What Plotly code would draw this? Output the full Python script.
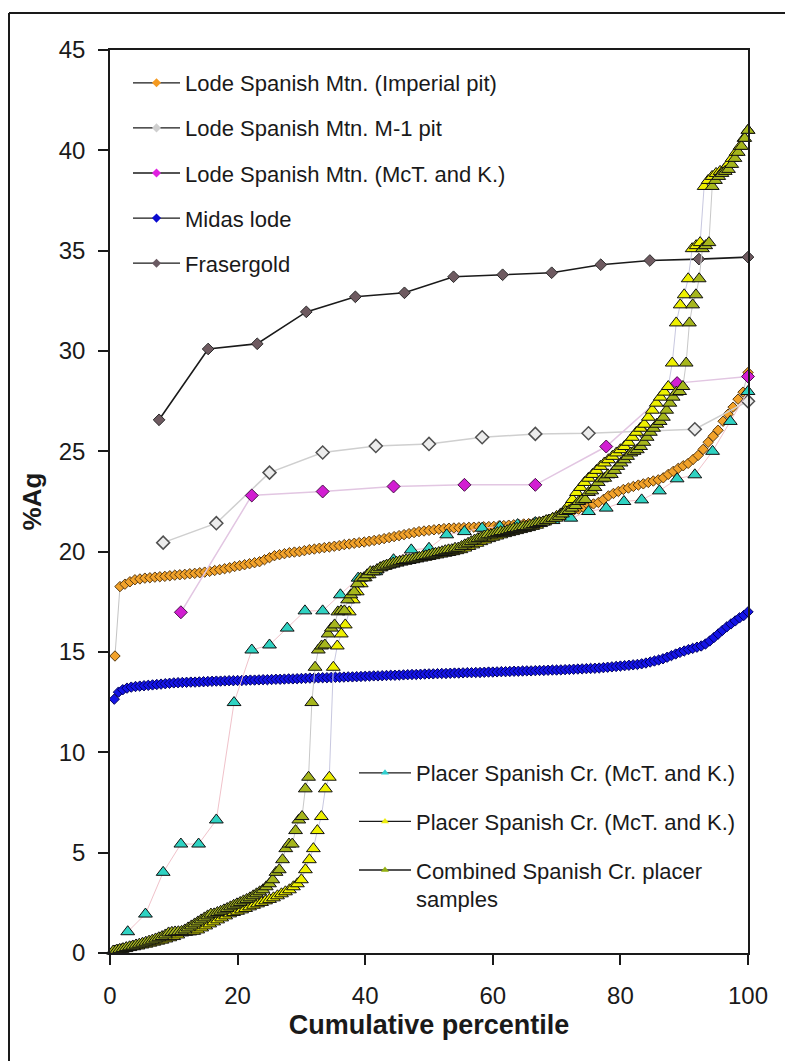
import plotly.graph_objects as go

# ---------------- data (sorted %Ag values per sample set) ----------------
imperial_pit_ag = [
    14.80, 18.26, 18.38, 18.50, 18.60, 18.64, 18.68, 18.70, 18.73, 18.75,
    18.77, 18.80, 18.83, 18.85, 18.87, 18.90, 18.92, 18.95, 18.98, 19.02,
    19.06, 19.10, 19.15, 19.20, 19.26, 19.30, 19.35, 19.40, 19.45, 19.50,
    19.60, 19.70, 19.80, 19.85, 19.90, 19.95, 19.98, 20.00, 20.05, 20.10,
    20.13, 20.17, 20.20, 20.23, 20.27, 20.30, 20.35, 20.38, 20.42, 20.45,
    20.48, 20.52, 20.56, 20.60, 20.65, 20.70, 20.75, 20.80, 20.85, 20.90,
    20.95, 21.00, 21.03, 21.06, 21.09, 21.12, 21.15, 21.17, 21.18, 21.19,
    21.20, 21.21, 21.22, 21.23, 21.24, 21.25, 21.26, 21.28, 21.30, 21.32,
    21.34, 21.36, 21.38, 21.40, 21.43, 21.47, 21.52, 21.58, 21.65, 21.72,
    21.82, 21.95, 22.05, 22.12, 22.20, 22.30, 22.38, 22.45, 22.60, 22.78,
    22.90, 23.00, 23.10, 23.17, 23.25, 23.32, 23.38, 23.45, 23.52, 23.58,
    23.68, 23.85, 24.00, 24.15, 24.28, 24.40, 24.60, 24.80, 25.10, 25.45,
    25.75, 26.05, 26.50, 26.85, 27.20, 27.60, 27.95, 28.93,
]

m1_pit_ag = [20.45, 21.42, 23.94, 24.94, 25.27, 25.37, 25.70, 25.87, 25.90,
             26.00, 26.10, 27.50]

mck_lode_ag = [16.98, 22.80, 23.00, 23.25, 23.33, 23.33, 25.24, 28.40, 28.73]

midas_ag = [
    12.65, 13.00, 13.12, 13.20, 13.25, 13.28, 13.30, 13.32, 13.34, 13.36,
    13.38, 13.40, 13.42, 13.44, 13.46, 13.47, 13.48, 13.49, 13.50, 13.50,
    13.51, 13.52, 13.53, 13.54, 13.55, 13.55, 13.56, 13.57, 13.57, 13.58,
    13.58, 13.59, 13.60, 13.60, 13.61, 13.62, 13.62, 13.63, 13.64, 13.64,
    13.65, 13.66, 13.66, 13.67, 13.68, 13.69, 13.70, 13.70, 13.71, 13.72,
    13.72, 13.73, 13.74, 13.74, 13.75, 13.76, 13.76, 13.77, 13.78, 13.79,
    13.80, 13.81, 13.81, 13.82, 13.83, 13.84, 13.84, 13.85, 13.86, 13.87,
    13.88, 13.88, 13.89, 13.90, 13.91, 13.91, 13.92, 13.93, 13.93, 13.94,
    13.95, 13.95, 13.96, 13.97, 13.97, 13.98, 13.98, 13.99, 14.00, 14.00,
    14.01, 14.02, 14.02, 14.03, 14.04, 14.04, 14.05, 14.06, 14.06, 14.07,
    14.08, 14.08, 14.09, 14.10, 14.10, 14.11, 14.12, 14.13, 14.14, 14.15,
    14.16, 14.17, 14.18, 14.19, 14.20, 14.22, 14.24, 14.26, 14.28, 14.30,
    14.32, 14.34, 14.36, 14.38, 14.41, 14.45, 14.50, 14.55, 14.60, 14.66,
    14.74, 14.82, 14.90, 14.98, 15.05, 15.12, 15.18, 15.24, 15.30, 15.40,
    15.55, 15.72, 15.90, 16.08, 16.25, 16.40, 16.55, 16.70, 16.82, 17.00,
]

frasergold_ag = [26.57, 30.10, 30.36, 31.95, 32.70, 32.90, 33.70, 33.80,
                 33.90, 34.30, 34.51, 34.58, 34.68]

placer_mck_ag = [
    1.06, 1.94, 4.02, 5.43, 5.43, 6.63, 12.48, 15.10, 15.35, 16.19,
    17.05, 17.05, 17.85, 18.68, 19.00, 19.60, 20.09, 20.17, 20.84, 21.00,
    21.17, 21.25, 21.35, 21.45, 21.55, 21.67, 22.00, 22.17, 22.50, 22.58,
    23.03, 23.63, 23.83, 25.00, 26.49, 27.98,
]

placer_b_ag = [
    0.10, 0.14, 0.18, 0.22, 0.27, 0.31, 0.35, 0.40, 0.44, 0.49,
    0.54, 0.59, 0.64, 0.70, 0.76, 0.82, 0.90, 1.00, 1.03, 1.05,
    1.08, 1.15, 1.25, 1.35, 1.45, 1.55, 1.65, 1.75, 1.85, 1.95,
    2.02, 2.08, 2.15, 2.22, 2.30, 2.38, 2.45, 2.52, 2.60, 2.67,
    2.75, 2.85, 2.95, 3.05, 3.15, 3.30, 3.45, 3.65, 4.15, 4.65,
    5.20, 6.10, 6.80, 8.18, 8.76, 14.24, 15.30, 15.90, 16.35, 17.00,
    17.60, 18.00, 18.40, 18.70, 18.85, 19.00, 19.10, 19.20, 19.27, 19.33,
    19.38, 19.43, 19.48, 19.52, 19.56, 19.60, 19.64, 19.68, 19.72, 19.76,
    19.80, 19.84, 19.88, 19.92, 19.96, 20.00, 20.05, 20.10, 20.18, 20.26,
    20.34, 20.42, 20.50, 20.58, 20.65, 20.72, 20.78, 20.84, 20.90, 20.95,
    21.00, 21.05, 21.10, 21.15, 21.20, 21.26, 21.32, 21.40, 21.48, 21.57,
    21.66, 21.76, 21.88, 22.05, 22.30, 22.60, 22.95, 23.20, 23.45, 23.66,
    23.85, 24.05, 24.25, 24.42, 24.58, 24.75, 24.92, 25.08, 25.24, 25.45,
    25.70, 25.95, 26.15, 26.35, 26.70, 27.05, 27.40, 27.70, 27.95, 28.23,
    29.40, 31.40, 32.30, 32.80, 33.60, 35.10, 35.25, 35.40, 38.20, 38.50,
    38.70, 38.85, 38.95, 39.05, 39.30, 39.60, 39.90, 40.20, 40.60, 41.00,
]

combined_ag = [
    0.10, 0.14, 0.18, 0.22, 0.27, 0.31, 0.35, 0.40, 0.44, 0.49,
    0.54, 0.59, 0.64, 0.70, 0.76, 0.82, 0.90, 1.00, 1.03, 1.05,
    1.06, 1.08, 1.15, 1.25, 1.35, 1.45, 1.55, 1.65, 1.75, 1.85,
    1.94, 1.95, 2.02, 2.08, 2.15, 2.22, 2.30, 2.38, 2.45, 2.52,
    2.60, 2.67, 2.75, 2.85, 2.95, 3.05, 3.15, 3.30, 3.45, 3.65,
    4.02, 4.15, 4.65, 5.20, 5.43, 5.43, 6.10, 6.63, 6.80, 8.18,
    8.76, 12.48, 14.24, 15.10, 15.30, 15.35, 15.90, 16.19, 16.35, 17.00,
    17.05, 17.05, 17.60, 17.85, 18.00, 18.40, 18.68, 18.70, 18.85, 19.00,
    19.00, 19.10, 19.20, 19.27, 19.33, 19.38, 19.43, 19.48, 19.52, 19.56,
    19.60, 19.60, 19.64, 19.68, 19.72, 19.76, 19.80, 19.84, 19.88, 19.92,
    19.96, 20.00, 20.05, 20.09, 20.10, 20.17, 20.18, 20.26, 20.34, 20.42,
    20.50, 20.58, 20.65, 20.72, 20.78, 20.84, 20.84, 20.90, 20.95, 21.00,
    21.00, 21.05, 21.10, 21.15, 21.17, 21.20, 21.25, 21.26, 21.32, 21.35,
    21.40, 21.45, 21.48, 21.55, 21.57, 21.66, 21.67, 21.76, 21.88, 22.00,
    22.05, 22.17, 22.30, 22.50, 22.58, 22.60, 22.95, 23.03, 23.20, 23.45,
    23.63, 23.66, 23.83, 23.85, 24.05, 24.25, 24.42, 24.58, 24.75, 24.92,
    25.00, 25.08, 25.24, 25.45, 25.70, 25.95, 26.15, 26.35, 26.49, 26.70,
    27.05, 27.40, 27.70, 27.95, 27.98, 28.23, 29.40, 31.40, 32.30, 32.80,
    33.60, 35.10, 35.25, 35.40, 38.20, 38.50, 38.70, 38.85, 38.95, 39.05,
    39.30, 39.60, 39.90, 40.20, 40.60, 41.00,
]

series_names = [
    "Lode Spanish Mtn. (Imperial pit)",
    "Lode Spanish Mtn. M-1 pit",
    "Lode Spanish Mtn. (McT. and K.)",
    "Midas lode",
    "Frasergold",
    "Placer Spanish Cr. (McT. and K.)",
    "Placer Spanish Cr. (McT. and K.)",
    "Combined Spanish Cr. placer<br>samples",
]

x_ticks = [0, 20, 40, 60, 80, 100]
y_ticks = [0, 5, 10, 15, 20, 25, 30, 35, 40, 45]


def cum_pct(vals):
    n = len(vals)
    return [100.0 * (k + 1) / n for k in range(n)]


# ---------------- styles ----------------
styles = [
    dict(symbol="diamond", size=8, fill="#F2A22A", edge="#5a3a10", ew=1, line="#c4c4c4", lw=1),
    dict(symbol="diamond", size=10, fill="#ececec", edge="#505050", ew=1.5, line="#cfcfcf", lw=1.5),
    dict(symbol="diamond", size=10, fill="#d21ed2", edge="#4a104a", ew=1, line="#e2c6e2", lw=1.5),
    dict(symbol="diamond", size=8, fill="#1414e6", edge="#000060", ew=1, line="#9090c8", lw=1),
    dict(symbol="diamond", size=9, fill="#6e5a60", edge="#2a2a2a", ew=1, line="#1a1a1a", lw=1.6),
    dict(symbol="triangle-up", size=12, fill="#2fd2c2", edge="#101010", ew=1, line="#f0c2ca", lw=1),
    dict(symbol="triangle-up", size=12, fill="#eef000", edge="#101010", ew=1, line="#c8c8e0", lw=1),
    dict(symbol="triangle-up", size=12, fill="#a6b61c", edge="#101010", ew=1, line="#c8c8c8", lw=1),
]
legend_fill = ["#f59a20", "#cfcfcf", "#e020e0", "#0a0ad0", "#6a5a62",
               "#30d0d0", "#eeee10", "#93b010"]

all_series = [imperial_pit_ag, m1_pit_ag, mck_lode_ag, midas_ag, frasergold_ag,
              placer_mck_ag, placer_b_ag, combined_ag]

FONT = "Liberation Sans, Arial, sans-serif"

fig = go.Figure()
for vals, st in zip(all_series, styles):
    fig.add_trace(go.Scatter(
        x=cum_pct(vals), y=vals, mode="lines+markers", showlegend=False,
        cliponaxis=False,
        line=dict(color=st["line"], width=st["lw"]),
        marker=dict(symbol=st["symbol"], size=st["size"], color=st["fill"],
                    line=dict(color=st["edge"], width=st["ew"])),
    ))

# legend entries (dark sample line, small coloured marker as in the original)
for k, (name, st) in enumerate(zip(series_names, styles)):
    fig.add_trace(go.Scatter(
        x=[None], y=[None], mode="lines+markers", name=name,
        legend="legend" if k < 5 else "legend2",
        legendgroup=f"g{k}",
        line=dict(color="#1a1a1a", width=1.3),
        marker=dict(symbol=st["symbol"], size=7, color=legend_fill[k],
                    line=dict(width=0)),
    ))

# outer frame (left and top edges visible in the original)
frame_left = -101 / 638
frame_top = 1 + 37 / 903
fig.add_shape(type="line", xref="paper", yref="paper", x0=frame_left, x1=frame_left,
              y0=-0.125, y1=frame_top, line=dict(color="#1a1a1a", width=2))
fig.add_shape(type="line", xref="paper", yref="paper", x0=frame_left, x1=1.07,
              y0=frame_top, y1=frame_top, line=dict(color="#1a1a1a", width=2))

axis_common = dict(
    showline=True, linecolor="#1a1a1a", linewidth=1.5, mirror=True,
    ticks="outside", ticklen=10, tickwidth=1.5, tickcolor="#1a1a1a",
    showgrid=False, zeroline=False,
    tickfont=dict(family=FONT, size=24, color="#1a1a1a"),
)

fig.update_layout(
    width=785, height=1061,
    margin=dict(l=110, r=37, t=50, b=108),
    paper_bgcolor="white", plot_bgcolor="white",
    font=dict(family=FONT, color="#1a1a1a"),
    xaxis=dict(range=[0, 100], tickvals=x_ticks, ticklabelstandoff=10,
               title=dict(text="<b>Cumulative percentile</b>", standoff=8,
                          font=dict(family=FONT, size=27, color="#1a1a1a")),
               **axis_common),
    yaxis=dict(range=[0, 45], tickvals=y_ticks, ticklabelstandoff=8,
               title=dict(text="<b>%Ag</b>", standoff=10,
                          font=dict(family=FONT, size=26, color="#1a1a1a")),
               **axis_common),
    legend=dict(x=18 / 638, y=(953 - 62) / 903, xanchor="left", yanchor="top",
                bgcolor="rgba(0,0,0,0)", font=dict(family=FONT, size=22, color="#1a1a1a"),
                tracegroupgap=13.5, itemwidth=47, valign="top"),
    legend2=dict(x=244 / 638, y=(953 - 752) / 903, xanchor="left", yanchor="top",
                 bgcolor="rgba(0,0,0,0)", font=dict(family=FONT, size=22, color="#1a1a1a"),
                 tracegroupgap=17, itemwidth=52, valign="top"),
)

fig.write_html("out.html", config={"displayModeBar": False},
               post_script="document.body.style.margin='0';")
